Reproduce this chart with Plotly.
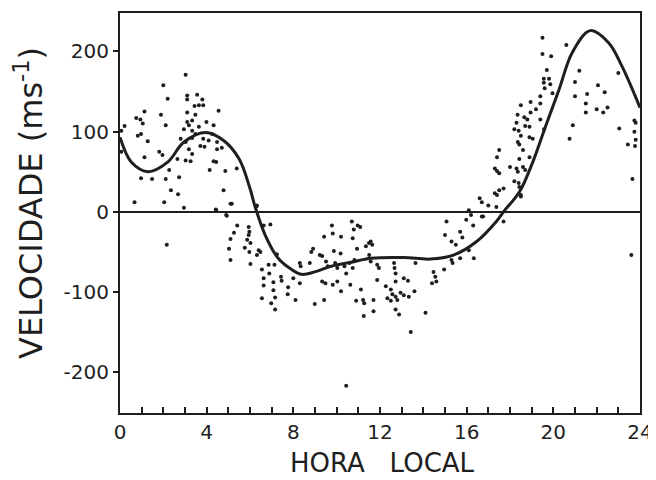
import plotly.graph_objects as go

# Scatter observations (hour, velocity m/s)
obs_hour = [
    3.03, 2.0, 2.2, 3.1, 3.56, 3.1, 3.8, 3.44, 3.64, 3.84, 1.13, 1.89, 3.1, 3.48, 4.55,
    0.75, 0.94, 1.05, 0.21, 0.06, 2.11, 3.1, 3.18, 3.33, 3.64, 3.99, 4.32, 2.95, 3.33, 3.48,
    0.82, 0.97, 1.28, 2.8, 3.03, 3.33, 3.84, 4.09, 4.25, 4.48, 3.71, 3.9, 4.48, 4.7, 0.06,
    1.81, 1.96, 3.18, 3.33, 1.13, 2.65, 3.03, 3.26, 4.32, 4.44, 4.14, 4.86, 5.39, 2.27, 0.97,
    1.48, 2.11, 2.73, 2.35, 2.68, 4.78, 0.67, 2.04, 5.16, 2.95, 4.44, 4.93, 6.3, 2.16,
    4.42, 5.1, 4.9, 6.32, 5.41, 5.94, 5.97, 5.94, 5.26, 6.63, 6.94, 5.1, 5.87, 6.02, 5.03,
    5.76, 6.4, 6.48, 5.97, 6.32, 7.24, 5.1, 6.02, 6.86, 7.13, 6.55, 6.89, 6.63, 7.43, 7.46,
    8.0, 6.63, 7.08, 8.3, 8.34, 8.3, 7.76, 7.08, 7.74, 6.55, 7.16, 8.1, 6.98, 7.16, 8.76,
    8.83, 8.91, 9.22, 9.33, 9.42, 9.78, 9.82, 10.2, 9.87, 10.18, 9.51, 9.59, 9.93, 10.03, 10.36,
    10.59, 10.74, 10.82, 10.44, 9.33, 9.48, 9.82, 10.03, 8.99, 9.42, 10.2, 10.63, 11.12, 10.9, 11.22,
    11.27, 11.25, 10.7, 10.97, 11.09, 10.79, 10.74, 10.94, 11.35, 10.44,
    11.57, 11.64, 11.49, 11.5, 11.57, 11.87, 11.95, 11.87, 12.65, 12.67, 12.72, 12.72, 13.1, 13.29,
    12.27, 12.5, 12.57, 12.34, 12.5, 12.72, 12.8, 12.95, 13.1, 13.33, 13.59, 11.7, 11.7, 12.72,
    12.88, 14.1, 13.42, 13.64, 14.47, 14.55, 14.6, 14.4, 14.96, 15.3, 15.35, 15.7, 16.33, 15.0,
    15.3, 15.5, 15.7, 15.8, 16.1, 15.07, 15.98, 16.3, 16.1, 16.2, 16.7, 16.76, 17.0, 17.37, 17.7,
    19.5, 20.6, 19.5, 19.9, 19.7, 19.56, 19.8, 19.56, 19.86, 19.6, 19.96, 19.4, 18.95, 18.5, 19.4,
    19.2, 18.35, 18.66, 18.8, 18.95, 19.4, 18.2, 18.3, 18.4, 18.7, 18.9, 19.57, 18.5, 18.9, 19.05,
    18.36, 18.43, 17.5, 17.4, 18.6, 18.43, 18.9, 18.0, 18.3, 18.6, 17.3, 17.4, 17.5, 18.36, 18.7,
    18.2, 18.4, 18.43, 17.7, 17.5, 17.3, 17.4, 18.5, 18.5, 16.6, 16.7,
    21.2, 21.0, 22.06, 22.37, 21.56, 21.0, 21.5, 21.5, 22.0, 22.3, 22.5, 23.0, 20.9, 20.75, 23.04,
    23.74, 23.8, 23.74, 23.8, 23.77, 23.44, 23.65, 23.6,
]
obs_velocity = [
    171, 158, 141, 145, 146, 140, 140, 132, 133, 133, 125, 121, 124, 121, 126,
    117, 115, 110, 107, 101, 108, 112, 108, 114, 106, 112, 108, 103, 101, 97,
    95, 97, 88, 91, 87, 92, 91, 89, 97, 87, 82, 81, 78, 80, 75,
    75, 71, 78, 72, 68, 66, 64, 63, 63, 62, 52, 51, 54, 52, 42,
    41, 41, 43, 27, 22, 27, 12, 12, 10, 5, 2, -5, 7, -41,
    3, 10, -4, 8, -17, -19, -25, -29, -26, -17, -16, -34, -35, -39, -46,
    -45, -48, -50, -50, -54, -53, -60, -65, -66, -66, -72, -77, -83, -81, -86,
    -83, -92, -88, -64, -68, -89, -94, -98, -103, -108, -107, -110, -114, -122, -64,
    -50, -46, -54, -55, -31, -17, -27, -31, -49, -52, -62, -68, -64, -70, -68,
    -64, -70, -60, -77, -87, -89, -91, -87, -115, -110, -99, -91, -97, -111, -110,
    -114, -130, -12, -17, -19, -22, -33, -46, -43, -217,
    -37, -41, -39, -54, -62, -66, -70, -85, -64, -70, -77, -87, -83, -86,
    -93, -97, -103, -108, -111, -106, -110, -101, -104, -106, -99, -110, -124, -122,
    -128, -126, -150, -64, -75, -81, -87, -89, -72, -60, -64, -58, -58, -29,
    -37, -41, -25, -32, -48, -12, -10, -17, 2, -4, -6, -6, 8, 6, -12,
    217, 208, 197, 194, 177, 166, 166, 161, 159, 154, 148, 144, 137, 133, 135,
    128, 121, 118, 115, 124, 115, 103, 111, 101, 107, 106, 103, 95, 93, 91,
    87, 84, 77, 68, 77, 66, 68, 56, 54, 56, 54, 51, 48, 50, 52,
    38, 36, 31, 29, 27, 23, 21, 21, 19, 17, 12,
    176, 162, 158, 149, 147, 144, 135, 124, 128, 124, 130, 173, 108, 91, 104,
    114, 111, 100, 90, 82, 84, 41, -54,
]

# Fitted curve
fit_hour = [0, 0.52, 1.28, 2.2, 2.95, 3.95, 4.78, 5.5, 6.0, 6.24, 6.7, 7.3, 7.92, 8.38,
            8.99, 9.75, 10.67, 11.58, 13.1, 14.32, 15.39, 16.46, 17.37, 17.7, 18.44,
            19.05, 19.66, 20.27, 20.88, 21.7, 22.55, 23.16, 24]
fit_velocity = [93, 62, 50, 62, 87, 99, 89, 66, 29, 6, -29, -58, -72, -78,
                -75, -68, -63, -58, -57, -59, -54, -37, -12, 0, 25,
                62, 108, 153, 199, 226, 211, 182, 130]

x_tick_vals = [0, 4, 8, 12, 16, 20, 24]
x_tick_text = ["0", "4", "8", "12", "16", "20", "24"]
y_tick_vals = [-200, -100, 0, 100, 200]
y_tick_text = ["-200", "-100", "0", "100", "200"]

ink = "#1e1e1e"
font_family = "DejaVu Sans, Liberation Sans, sans-serif"

fig = go.Figure()
fig.add_trace(go.Scatter(
    x=obs_hour, y=obs_velocity, mode="markers",
    marker=dict(size=4, color=ink), hoverinfo="skip", showlegend=False,
))
fig.add_trace(go.Scatter(
    x=fit_hour, y=fit_velocity, mode="lines",
    line=dict(color=ink, width=3, shape="spline", smoothing=1.0),
    hoverinfo="skip", showlegend=False,
))

# page body has an 8px margin, so the figure is a little smaller than the window
fig.update_layout(
    width=648, height=472,
    margin=dict(l=112, r=11, t=3, b=67),
    paper_bgcolor="white", plot_bgcolor="white",
    font=dict(family=font_family, color=ink, size=18),
    xaxis=dict(
        range=[0, 24], tickmode="array", tickvals=x_tick_vals, ticktext=x_tick_text,
        ticks="inside", ticklen=6, tickwidth=1.5, tickcolor=ink,
        minor=dict(tickmode="linear", tick0=0, dtick=1, ticks="inside", ticklen=6,
                   tickwidth=1.5, tickcolor=ink, showgrid=False),
        showline=True, linecolor=ink, linewidth=2, mirror=True,
        showgrid=False, zeroline=False, ticklabeloverflow="allow",
        tickfont=dict(size=20, family=font_family, color=ink),
    ),
    yaxis=dict(
        range=[-251, 248], tickvals=y_tick_vals, ticktext=y_tick_text,
        ticks="outside", ticklen=5, tickwidth=1.5, tickcolor=ink,
        showline=True, linecolor=ink, linewidth=2, mirror=True,
        showgrid=False, zeroline=True, zerolinecolor=ink, zerolinewidth=1.5,
        tickfont=dict(size=20, family=font_family, color=ink),
        ticklabelstandoff=0,
    ),
    annotations=[
        dict(text="VELOCIDADE (ms<sup>-1</sup>)", xref="paper", yref="paper",
             x=-0.175, y=0.525, xanchor="center", yanchor="middle",
             textangle=-90, showarrow=False,
             font=dict(size=32, family=font_family, color=ink)),
        dict(text="HORA   LOCAL", xref="paper", yref="paper",
             x=0.505, y=-0.124, xanchor="center", yanchor="middle",
             showarrow=False,
             font=dict(size=26, family=font_family, color=ink)),
    ],
)

fig.write_html("out.html")
